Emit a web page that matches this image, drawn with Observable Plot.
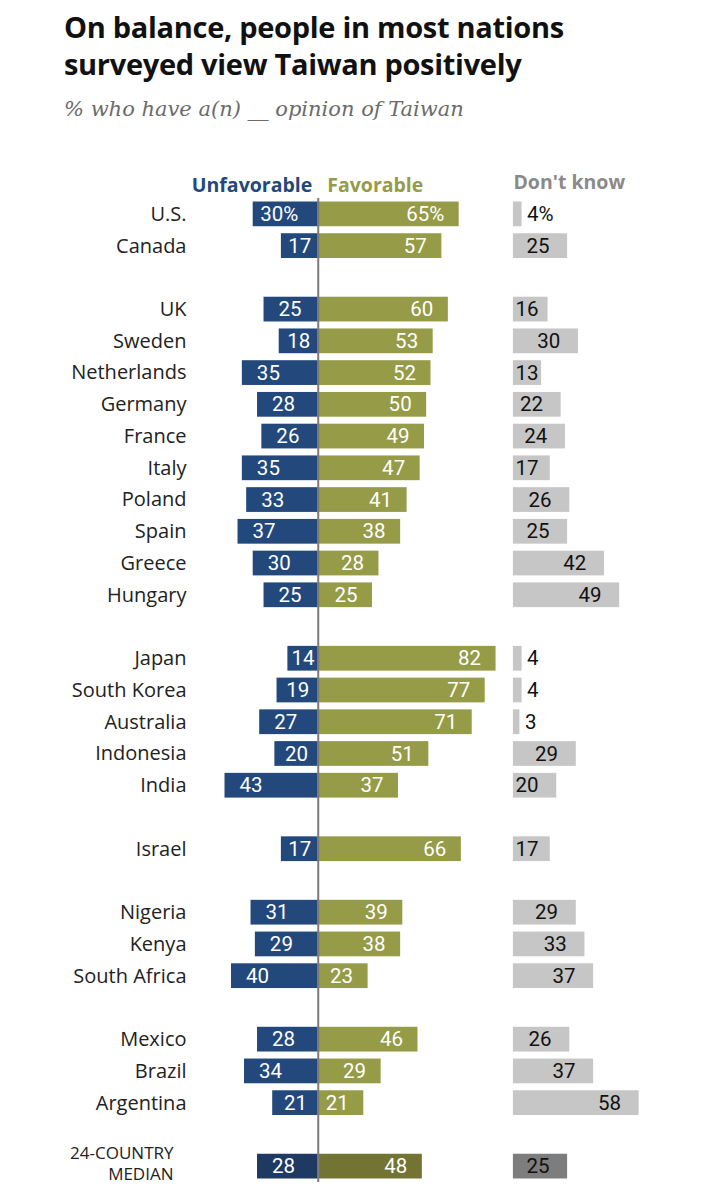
<!DOCTYPE html>
<html>
<head>
<meta charset="utf-8">
<script src="https://cdn.jsdelivr.net/npm/d3@7"></script>
<script src="https://cdn.jsdelivr.net/npm/@observablehq/plot@0.6"></script>
<style>
  html, body { margin: 0; padding: 0; background: #fff; width: 705px; height: 1200px; overflow: hidden; }
  #title { position: absolute; left: 64px; top: 8px; font-family: "Open Sans", sans-serif; font-weight: 700; font-size: 29px; line-height: 37px; color: #111; letter-spacing: -0.3px; }
  #subtitle { position: absolute; left: 64px; top: 96px; font-family: "DejaVu Serif", serif; font-style: italic; font-size: 21px; line-height: 26px; color: #6b6b6b; }
  #chart { position: absolute; left: 0; top: 150px; }
</style>
</head>
<body>
<div id="title">On balance, people in most nations<br>surveyed view Taiwan positively</div>
<div id="subtitle">% who have a(n) __ opinion of Taiwan</div>
<div id="chart"></div>
<script>
const countries = ["U.S.","Canada","UK","Sweden","Netherlands","Germany","France","Italy","Poland","Spain","Greece","Hungary","Japan","South Korea","Australia","Indonesia","India","Israel","Nigeria","Kenya","South Africa","Mexico","Brazil","Argentina","24-COUNTRY\nMEDIAN"];
const groups = [0,0,1,1,1,1,1,1,1,1,1,1,2,2,2,2,2,3,4,4,4,5,5,5,6];
const unfavorable = [30,17,25,18,35,28,26,35,33,37,30,25,14,19,27,20,43,17,31,29,40,28,34,21,28];
const favorable = [65,57,60,53,52,50,49,47,41,38,28,25,82,77,71,51,37,66,39,38,23,46,29,21,48];
const dontKnow = [4,25,16,30,13,22,24,17,26,25,42,49,4,4,3,29,20,17,29,33,37,26,37,58,25];
const seriesNames = ["Unfavorable","Favorable","Don't know"];

const colors = {unf: "#22487c", fav: "#969b47", dk: "#c6c6c6", unfM: "#1e3a63", favM: "#737434", dkM: "#7d7d7d"};
const DK = 90;   // start of the Don't know column, in x units
const XMIN = -46;

const rows = countries.map((c, i) => ({
  country: c, group: groups[i], unf: unfavorable[i], fav: favorable[i], dk: dontKnow[i],
  median: i === countries.length - 1, first: i === 0
}));

const domain = [];
rows.forEach((r, i) => {
  if (i > 0 && r.group !== rows[i - 1].group) domain.push("gap" + i);
  domain.push(r.country);
});

const pct = (r, v) => r.first ? v + "%" : String(v);
const numFont = "Roboto, sans-serif";
const hdrFont = "'Open Sans', sans-serif";

const chart = Plot.plot({
  width: 705,
  height: 1045,
  marginTop: 48,
  marginBottom: 13,
  marginLeft: 218,
  marginRight: 62,
  style: {fontFamily: "'Open Sans', sans-serif", fontSize: "20px", color: "#222", background: "#fff"},
  x: {domain: [XMIN, 150], axis: null},
  y: {domain, padding: 0, round: false, axis: null},
  marks: [
    Plot.text(rows.filter(d => !d.median), {y: "country", x: XMIN, text: "country", textAnchor: "end", dx: -32, fill: "#222", fontSize: 20}),
    Plot.text(rows.filter(d => d.median), {y: "country", x: XMIN, text: "country", textAnchor: "end", dx: -45, fill: "#222", fontSize: 17, lineHeight: 1.25, dy: -4}),
    Plot.barX(rows, {y: "country", x1: 0, x2: d => -d.unf, fill: d => d.median ? colors.unfM : colors.unf, insetTop: 3.5, insetBottom: 3.5}),
    Plot.barX(rows, {y: "country", x1: 0, x2: d => d.fav, fill: d => d.median ? colors.favM : colors.fav, insetTop: 3.5, insetBottom: 3.5}),
    Plot.barX(rows, {y: "country", x1: DK, x2: d => DK + d.dk, fill: d => d.median ? colors.dkM : colors.dk, insetTop: 3.5, insetBottom: 3.5}),
    Plot.ruleX([0], {stroke: "#7a7a7a", strokeWidth: 2}),
    Plot.text(rows, {y: "country", x: d => -(d.unf - Math.min(d.unf / 2, 12)), text: d => pct(d, d.unf), fill: "#fff", fontSize: 20.5, textAnchor: "middle", fontFamily: numFont}),
    Plot.text(rows, {y: "country", x: "fav", text: d => pct(d, d.fav), fill: "#fff", fontSize: 20.5, textAnchor: "end", dx: -15, fontFamily: numFont}),
    Plot.text(rows, {y: "country", x: d => DK + (d.dk < 10 ? d.dk + 2.3 : Math.max(d.dk - 19, 1)), text: d => pct(d, d.dk), fill: "#111", fontSize: 20.5, textAnchor: "start", fontFamily: numFont}),
    Plot.text([seriesNames[0]], {x: 0, frameAnchor: "top", dy: -20, dx: -6, textAnchor: "end", fill: colors.unf, fontWeight: 700, fontSize: 19.5, fontFamily: hdrFont}),
    Plot.text([seriesNames[1]], {x: 0, frameAnchor: "top", dy: -20, dx: 9, textAnchor: "start", fill: colors.fav, fontWeight: 700, fontSize: 19.5, fontFamily: hdrFont}),
    Plot.text([seriesNames[2]], {x: DK, frameAnchor: "top", dy: -23, textAnchor: "start", fill: "#8a8a8a", fontWeight: 700, fontSize: 19.5, fontFamily: hdrFont})
  ]
});
document.getElementById("chart").appendChild(chart);
</script>
</body>
</html>
